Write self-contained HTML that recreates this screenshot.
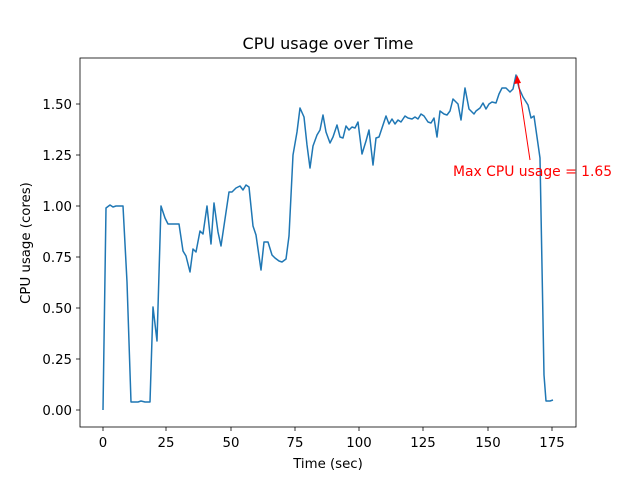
<!DOCTYPE html>
<html><head><meta charset="utf-8"><style>body{margin:0;background:#fff}svg{display:block;font-family:"DejaVu Sans","Liberation Sans",sans-serif}</style></head>
<body>
<svg width="640" height="480" viewBox="0 0 640 480">
<rect x="80" y="58" width="496" height="369" fill="#fff" stroke="#000" stroke-width="0.8"/>
<g stroke="#000" stroke-width="0.8">
<line x1="103" y1="427" x2="103" y2="431"/><line x1="166" y1="427" x2="166" y2="431"/><line x1="231" y1="427" x2="231" y2="431"/><line x1="295" y1="427" x2="295" y2="431"/><line x1="359" y1="427" x2="359" y2="431"/><line x1="423" y1="427" x2="423" y2="431"/><line x1="488" y1="427" x2="488" y2="431"/><line x1="552" y1="427" x2="552" y2="431"/>
<line x1="76" y1="410" x2="80" y2="410"/><line x1="76" y1="359" x2="80" y2="359"/><line x1="76" y1="308" x2="80" y2="308"/><line x1="76" y1="257" x2="80" y2="257"/><line x1="76" y1="206" x2="80" y2="206"/><line x1="76" y1="155" x2="80" y2="155"/><line x1="76" y1="104" x2="80" y2="104"/>
</g>
<g font-size="13.3" fill="#000" text-anchor="middle">
<text x="103" y="447">0</text><text x="166" y="447">25</text><text x="231" y="447">50</text><text x="295" y="447">75</text><text x="359" y="447">100</text><text x="423" y="447">125</text><text x="488" y="447">150</text><text x="552" y="447">175</text>
</g>
<g font-size="13.3" fill="#000" text-anchor="end">
<text x="72" y="415">0.00</text><text x="72" y="364">0.25</text><text x="72" y="313">0.50</text><text x="72" y="262">0.75</text><text x="72" y="211">1.00</text><text x="72" y="160">1.25</text><text x="72" y="109">1.50</text>
</g>
<text x="328" y="468" font-size="13.3" text-anchor="middle">Time (sec)</text>
<text x="30" y="243" font-size="13.3" text-anchor="middle" transform="rotate(-90 30 243)">CPU usage (cores)</text>
<text x="328" y="49" font-size="16" text-anchor="middle">CPU usage over Time</text>
<polyline fill="none" stroke="#1f77b4" stroke-width="1.5" stroke-linejoin="round" points="103,410 106,208 110,205 113,207 116,206 120,206 123,206 127,282 131,402 134,402 138,402 141,401 145,402 150,402 153,307 157,341 161,206 165,218 168,224 172,224 176,224 179,224 183,251 186,256 190,272 193,249 196,252 200,231 203,234 207,206 211,244 214,203 218,232 221,246 225,219 229,192 232,192 236,188 240,186 243,190 246,185 249,187 253,226 256,235 261,270 264,242 268,242 272,255 275,258 279,261 282,262 286,259 289,236 293,155 297,132 300,108 304,117 307,145 310,168 313,146 317,135 320,130 323,115 326,132 330,143 333,137 337,125 340,137 343,138 346,126 349,130 352,127 355,128 358,122 362,154 366,141 369,130 373,165 376,138 379,137 383,125 386,116 389,124 392,119 395,124 398,120 401,122 405,116 408,118 412,119 415,117 418,119 421,114 424,116 428,122 431,123 434,118 437,137 440,111 444,114 447,115 450,111 453,99 456,102 458,104 461,120 465,88 469,109 474,114 476,111 480,108 483,103 486,109 489,104 492,102 496,103 499,94 502,88 506,88 510,92 513,89 516,75 519,88 523,97 528,105 531,118 534,116 540,158 544,375 546,401 550,401 553,400"/>
<line x1="530" y1="160" x2="518" y2="80" stroke="red" stroke-width="1"/>
<polygon points="517,75 514,84 521,83" fill="red"/>
<text x="453" y="176" font-size="13.9" fill="red">Max CPU usage = 1.65</text>
</svg>
</body></html>
